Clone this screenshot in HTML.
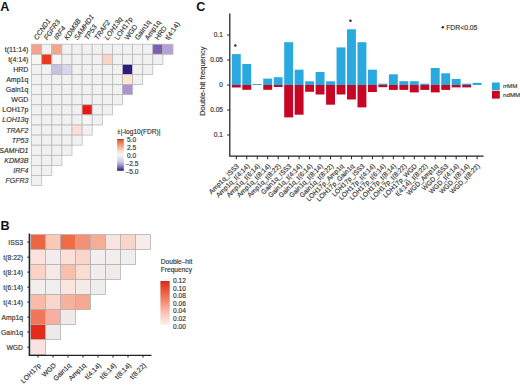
<!DOCTYPE html><html><head><meta charset="utf-8"><style>html,body{margin:0;padding:0;background:#fff;}svg{display:block;} text{stroke:#3a3a3a;stroke-width:0.16px;} text.b{stroke:none;}</style></head><body>
<svg width="520" height="385" viewBox="0 0 520 385" font-family='"Liberation Sans", sans-serif'>
<rect width="520" height="385" fill="#fff"/>
<text x="0.3" y="10.6" class="b" font-size="12.6" font-weight="bold" fill="#111">A</text>
<text x="0.6" y="229.9" class="b" font-size="12.6" font-weight="bold" fill="#111">B</text>
<text x="196.2" y="10.6" class="b" font-size="12.6" font-weight="bold" fill="#111">C</text>
<rect x="31.60" y="44.20" width="10.10" height="10.10" fill="#f4a28f" stroke="#b8b8b8" stroke-width="0.75"/>
<rect x="41.70" y="44.20" width="10.10" height="10.10" fill="#f1f1f1" stroke="#b8b8b8" stroke-width="0.75"/>
<rect x="51.80" y="44.20" width="10.10" height="10.10" fill="#f5a690" stroke="#b8b8b8" stroke-width="0.75"/>
<rect x="61.90" y="44.20" width="10.10" height="10.10" fill="#f1f1f1" stroke="#b8b8b8" stroke-width="0.75"/>
<rect x="72.00" y="44.20" width="10.10" height="10.10" fill="#f1f1f1" stroke="#b8b8b8" stroke-width="0.75"/>
<rect x="82.10" y="44.20" width="10.10" height="10.10" fill="#f1f1f1" stroke="#b8b8b8" stroke-width="0.75"/>
<rect x="92.20" y="44.20" width="10.10" height="10.10" fill="#f1f1f1" stroke="#b8b8b8" stroke-width="0.75"/>
<rect x="102.30" y="44.20" width="10.10" height="10.10" fill="#f1f1f1" stroke="#b8b8b8" stroke-width="0.75"/>
<rect x="112.40" y="44.20" width="10.10" height="10.10" fill="#f1f1f1" stroke="#b8b8b8" stroke-width="0.75"/>
<rect x="122.50" y="44.20" width="10.10" height="10.10" fill="#f1f1f1" stroke="#b8b8b8" stroke-width="0.75"/>
<rect x="132.60" y="44.20" width="10.10" height="10.10" fill="#f1f1f1" stroke="#b8b8b8" stroke-width="0.75"/>
<rect x="142.70" y="44.20" width="10.10" height="10.10" fill="#f1f1f1" stroke="#b8b8b8" stroke-width="0.75"/>
<rect x="152.80" y="44.20" width="10.10" height="10.10" fill="#7a60b0" stroke="#b8b8b8" stroke-width="0.75"/>
<rect x="162.90" y="44.20" width="10.10" height="10.10" fill="#b3a1d8" stroke="#b8b8b8" stroke-width="0.75"/>
<rect x="31.60" y="54.30" width="10.10" height="10.10" fill="#f9f5f3" stroke="#b8b8b8" stroke-width="0.75"/>
<rect x="41.70" y="54.30" width="10.10" height="10.10" fill="#e63a1a" stroke="#b8b8b8" stroke-width="0.75"/>
<rect x="51.80" y="54.30" width="10.10" height="10.10" fill="#f8f5f4" stroke="#b8b8b8" stroke-width="0.75"/>
<rect x="61.90" y="54.30" width="10.10" height="10.10" fill="#f1f1f1" stroke="#b8b8b8" stroke-width="0.75"/>
<rect x="72.00" y="54.30" width="10.10" height="10.10" fill="#f1f1f1" stroke="#b8b8b8" stroke-width="0.75"/>
<rect x="82.10" y="54.30" width="10.10" height="10.10" fill="#f1f1f1" stroke="#b8b8b8" stroke-width="0.75"/>
<rect x="92.20" y="54.30" width="10.10" height="10.10" fill="#f1f1f1" stroke="#b8b8b8" stroke-width="0.75"/>
<rect x="102.30" y="54.30" width="10.10" height="10.10" fill="#fbd3c3" stroke="#b8b8b8" stroke-width="0.75"/>
<rect x="112.40" y="54.30" width="10.10" height="10.10" fill="#f1f1f1" stroke="#b8b8b8" stroke-width="0.75"/>
<rect x="122.50" y="54.30" width="10.10" height="10.10" fill="#f1f1f1" stroke="#b8b8b8" stroke-width="0.75"/>
<rect x="132.60" y="54.30" width="10.10" height="10.10" fill="#f1f1f1" stroke="#b8b8b8" stroke-width="0.75"/>
<rect x="142.70" y="54.30" width="10.10" height="10.10" fill="#f1f1f1" stroke="#b8b8b8" stroke-width="0.75"/>
<rect x="152.80" y="54.30" width="10.10" height="10.10" fill="#f1f1f1" stroke="#b8b8b8" stroke-width="0.75"/>
<rect x="31.60" y="64.40" width="10.10" height="10.10" fill="#f1f1f1" stroke="#b8b8b8" stroke-width="0.75"/>
<rect x="41.70" y="64.40" width="10.10" height="10.10" fill="#f1f1f1" stroke="#b8b8b8" stroke-width="0.75"/>
<rect x="51.80" y="64.40" width="10.10" height="10.10" fill="#c9c1e2" stroke="#b8b8b8" stroke-width="0.75"/>
<rect x="61.90" y="64.40" width="10.10" height="10.10" fill="#dbd6ec" stroke="#b8b8b8" stroke-width="0.75"/>
<rect x="72.00" y="64.40" width="10.10" height="10.10" fill="#f1f1f1" stroke="#b8b8b8" stroke-width="0.75"/>
<rect x="82.10" y="64.40" width="10.10" height="10.10" fill="#f1f1f1" stroke="#b8b8b8" stroke-width="0.75"/>
<rect x="92.20" y="64.40" width="10.10" height="10.10" fill="#f1f1f1" stroke="#b8b8b8" stroke-width="0.75"/>
<rect x="102.30" y="64.40" width="10.10" height="10.10" fill="#f1f1f1" stroke="#b8b8b8" stroke-width="0.75"/>
<rect x="112.40" y="64.40" width="10.10" height="10.10" fill="#f1f1f1" stroke="#b8b8b8" stroke-width="0.75"/>
<rect x="122.50" y="64.40" width="10.10" height="10.10" fill="#2e1c7f" stroke="#b8b8b8" stroke-width="0.75"/>
<rect x="132.60" y="64.40" width="10.10" height="10.10" fill="#f1f1f1" stroke="#b8b8b8" stroke-width="0.75"/>
<rect x="142.70" y="64.40" width="10.10" height="10.10" fill="#f1f1f1" stroke="#b8b8b8" stroke-width="0.75"/>
<rect x="31.60" y="74.50" width="10.10" height="10.10" fill="#f1f1f1" stroke="#b8b8b8" stroke-width="0.75"/>
<rect x="41.70" y="74.50" width="10.10" height="10.10" fill="#f1f1f1" stroke="#b8b8b8" stroke-width="0.75"/>
<rect x="51.80" y="74.50" width="10.10" height="10.10" fill="#f1f1f1" stroke="#b8b8b8" stroke-width="0.75"/>
<rect x="61.90" y="74.50" width="10.10" height="10.10" fill="#f1f1f1" stroke="#b8b8b8" stroke-width="0.75"/>
<rect x="72.00" y="74.50" width="10.10" height="10.10" fill="#f1f1f1" stroke="#b8b8b8" stroke-width="0.75"/>
<rect x="82.10" y="74.50" width="10.10" height="10.10" fill="#f1f1f1" stroke="#b8b8b8" stroke-width="0.75"/>
<rect x="92.20" y="74.50" width="10.10" height="10.10" fill="#f1f1f1" stroke="#b8b8b8" stroke-width="0.75"/>
<rect x="102.30" y="74.50" width="10.10" height="10.10" fill="#f1f1f1" stroke="#b8b8b8" stroke-width="0.75"/>
<rect x="112.40" y="74.50" width="10.10" height="10.10" fill="#f1f1f1" stroke="#b8b8b8" stroke-width="0.75"/>
<rect x="122.50" y="74.50" width="10.10" height="10.10" fill="#fde5d3" stroke="#b8b8b8" stroke-width="0.75"/>
<rect x="132.60" y="74.50" width="10.10" height="10.10" fill="#f1f1f1" stroke="#b8b8b8" stroke-width="0.75"/>
<rect x="31.60" y="84.60" width="10.10" height="10.10" fill="#f1f1f1" stroke="#b8b8b8" stroke-width="0.75"/>
<rect x="41.70" y="84.60" width="10.10" height="10.10" fill="#f1f1f1" stroke="#b8b8b8" stroke-width="0.75"/>
<rect x="51.80" y="84.60" width="10.10" height="10.10" fill="#f1f1f1" stroke="#b8b8b8" stroke-width="0.75"/>
<rect x="61.90" y="84.60" width="10.10" height="10.10" fill="#f1f1f1" stroke="#b8b8b8" stroke-width="0.75"/>
<rect x="72.00" y="84.60" width="10.10" height="10.10" fill="#f1f1f1" stroke="#b8b8b8" stroke-width="0.75"/>
<rect x="82.10" y="84.60" width="10.10" height="10.10" fill="#f1f1f1" stroke="#b8b8b8" stroke-width="0.75"/>
<rect x="92.20" y="84.60" width="10.10" height="10.10" fill="#f1f1f1" stroke="#b8b8b8" stroke-width="0.75"/>
<rect x="102.30" y="84.60" width="10.10" height="10.10" fill="#f1f1f1" stroke="#b8b8b8" stroke-width="0.75"/>
<rect x="112.40" y="84.60" width="10.10" height="10.10" fill="#f1f1f1" stroke="#b8b8b8" stroke-width="0.75"/>
<rect x="122.50" y="84.60" width="10.10" height="10.10" fill="#a994d0" stroke="#b8b8b8" stroke-width="0.75"/>
<rect x="31.60" y="94.70" width="10.10" height="10.10" fill="#f1f1f1" stroke="#b8b8b8" stroke-width="0.75"/>
<rect x="41.70" y="94.70" width="10.10" height="10.10" fill="#f1f1f1" stroke="#b8b8b8" stroke-width="0.75"/>
<rect x="51.80" y="94.70" width="10.10" height="10.10" fill="#f1f1f1" stroke="#b8b8b8" stroke-width="0.75"/>
<rect x="61.90" y="94.70" width="10.10" height="10.10" fill="#f1f1f1" stroke="#b8b8b8" stroke-width="0.75"/>
<rect x="72.00" y="94.70" width="10.10" height="10.10" fill="#f1f1f1" stroke="#b8b8b8" stroke-width="0.75"/>
<rect x="82.10" y="94.70" width="10.10" height="10.10" fill="#f1f1f1" stroke="#b8b8b8" stroke-width="0.75"/>
<rect x="92.20" y="94.70" width="10.10" height="10.10" fill="#f1f1f1" stroke="#b8b8b8" stroke-width="0.75"/>
<rect x="102.30" y="94.70" width="10.10" height="10.10" fill="#f1f1f1" stroke="#b8b8b8" stroke-width="0.75"/>
<rect x="112.40" y="94.70" width="10.10" height="10.10" fill="#f1f1f1" stroke="#b8b8b8" stroke-width="0.75"/>
<rect x="31.60" y="104.80" width="10.10" height="10.10" fill="#f1f1f1" stroke="#b8b8b8" stroke-width="0.75"/>
<rect x="41.70" y="104.80" width="10.10" height="10.10" fill="#f1f1f1" stroke="#b8b8b8" stroke-width="0.75"/>
<rect x="51.80" y="104.80" width="10.10" height="10.10" fill="#f1f1f1" stroke="#b8b8b8" stroke-width="0.75"/>
<rect x="61.90" y="104.80" width="10.10" height="10.10" fill="#f1f1f1" stroke="#b8b8b8" stroke-width="0.75"/>
<rect x="72.00" y="104.80" width="10.10" height="10.10" fill="#f1f1f1" stroke="#b8b8b8" stroke-width="0.75"/>
<rect x="82.10" y="104.80" width="10.10" height="10.10" fill="#e81a16" stroke="#b8b8b8" stroke-width="0.75"/>
<rect x="92.20" y="104.80" width="10.10" height="10.10" fill="#f1f1f1" stroke="#b8b8b8" stroke-width="0.75"/>
<rect x="102.30" y="104.80" width="10.10" height="10.10" fill="#f1f1f1" stroke="#b8b8b8" stroke-width="0.75"/>
<rect x="31.60" y="114.90" width="10.10" height="10.10" fill="#f1f1f1" stroke="#b8b8b8" stroke-width="0.75"/>
<rect x="41.70" y="114.90" width="10.10" height="10.10" fill="#f1f1f1" stroke="#b8b8b8" stroke-width="0.75"/>
<rect x="51.80" y="114.90" width="10.10" height="10.10" fill="#f1f1f1" stroke="#b8b8b8" stroke-width="0.75"/>
<rect x="61.90" y="114.90" width="10.10" height="10.10" fill="#f1f1f1" stroke="#b8b8b8" stroke-width="0.75"/>
<rect x="72.00" y="114.90" width="10.10" height="10.10" fill="#f1f1f1" stroke="#b8b8b8" stroke-width="0.75"/>
<rect x="82.10" y="114.90" width="10.10" height="10.10" fill="#f7f5f5" stroke="#b8b8b8" stroke-width="0.75"/>
<rect x="92.20" y="114.90" width="10.10" height="10.10" fill="#f1f1f1" stroke="#b8b8b8" stroke-width="0.75"/>
<rect x="31.60" y="125.00" width="10.10" height="10.10" fill="#f1f1f1" stroke="#b8b8b8" stroke-width="0.75"/>
<rect x="41.70" y="125.00" width="10.10" height="10.10" fill="#f1f1f1" stroke="#b8b8b8" stroke-width="0.75"/>
<rect x="51.80" y="125.00" width="10.10" height="10.10" fill="#f1f1f1" stroke="#b8b8b8" stroke-width="0.75"/>
<rect x="61.90" y="125.00" width="10.10" height="10.10" fill="#f1f1f1" stroke="#b8b8b8" stroke-width="0.75"/>
<rect x="72.00" y="125.00" width="10.10" height="10.10" fill="#fbe0d6" stroke="#b8b8b8" stroke-width="0.75"/>
<rect x="82.10" y="125.00" width="10.10" height="10.10" fill="#f1f1f1" stroke="#b8b8b8" stroke-width="0.75"/>
<rect x="31.60" y="135.10" width="10.10" height="10.10" fill="#f1f1f1" stroke="#b8b8b8" stroke-width="0.75"/>
<rect x="41.70" y="135.10" width="10.10" height="10.10" fill="#f1f1f1" stroke="#b8b8b8" stroke-width="0.75"/>
<rect x="51.80" y="135.10" width="10.10" height="10.10" fill="#f1f1f1" stroke="#b8b8b8" stroke-width="0.75"/>
<rect x="61.90" y="135.10" width="10.10" height="10.10" fill="#f1f1f1" stroke="#b8b8b8" stroke-width="0.75"/>
<rect x="72.00" y="135.10" width="10.10" height="10.10" fill="#f1f1f1" stroke="#b8b8b8" stroke-width="0.75"/>
<rect x="31.60" y="145.20" width="10.10" height="10.10" fill="#f1f1f1" stroke="#b8b8b8" stroke-width="0.75"/>
<rect x="41.70" y="145.20" width="10.10" height="10.10" fill="#f1f1f1" stroke="#b8b8b8" stroke-width="0.75"/>
<rect x="51.80" y="145.20" width="10.10" height="10.10" fill="#f1f1f1" stroke="#b8b8b8" stroke-width="0.75"/>
<rect x="61.90" y="145.20" width="10.10" height="10.10" fill="#f1f1f1" stroke="#b8b8b8" stroke-width="0.75"/>
<rect x="31.60" y="155.30" width="10.10" height="10.10" fill="#f1f1f1" stroke="#b8b8b8" stroke-width="0.75"/>
<rect x="41.70" y="155.30" width="10.10" height="10.10" fill="#f1f1f1" stroke="#b8b8b8" stroke-width="0.75"/>
<rect x="51.80" y="155.30" width="10.10" height="10.10" fill="#f1f1f1" stroke="#b8b8b8" stroke-width="0.75"/>
<rect x="31.60" y="165.40" width="10.10" height="10.10" fill="#f1f1f1" stroke="#b8b8b8" stroke-width="0.75"/>
<rect x="41.70" y="165.40" width="10.10" height="10.10" fill="#f1f1f1" stroke="#b8b8b8" stroke-width="0.75"/>
<rect x="31.60" y="175.50" width="10.10" height="10.10" fill="#f1f1f1" stroke="#b8b8b8" stroke-width="0.75"/>
<text x="28.4" y="51.75" text-anchor="end" font-size="7.0" fill="#333">t(11:14)</text>
<text x="28.4" y="61.85" text-anchor="end" font-size="7.0" fill="#333">t(4:14)</text>
<text x="28.4" y="71.95" text-anchor="end" font-size="7.0" fill="#333">HRD</text>
<text x="28.4" y="82.05" text-anchor="end" font-size="7.0" fill="#333">Amp1q</text>
<text x="28.4" y="92.15" text-anchor="end" font-size="7.0" fill="#333">Gain1q</text>
<text x="28.4" y="102.25" text-anchor="end" font-size="7.0" fill="#333">WGD</text>
<text x="28.4" y="112.35" text-anchor="end" font-size="7.0" fill="#333">LOH17p</text>
<text x="28.4" y="122.45" text-anchor="end" font-size="7.0" font-style="italic" fill="#333">LOH13q</text>
<text x="28.4" y="132.55" text-anchor="end" font-size="7.0" font-style="italic" fill="#333">TRAF2</text>
<text x="28.4" y="142.65" text-anchor="end" font-size="7.0" font-style="italic" fill="#333">TP53</text>
<text x="28.4" y="152.75" text-anchor="end" font-size="7.0" font-style="italic" fill="#333">SAMHD1</text>
<text x="28.4" y="162.85" text-anchor="end" font-size="7.0" font-style="italic" fill="#333">KDM3B</text>
<text x="28.4" y="172.95" text-anchor="end" font-size="7.0" font-style="italic" fill="#333">IRF4</text>
<text x="28.4" y="183.05" text-anchor="end" font-size="7.0" font-style="italic" fill="#333">FGFR3</text>
<text transform="translate(37.15,40.50) rotate(-55)" font-size="7.0" font-style="italic" fill="#333">CCND1</text>
<text transform="translate(47.25,40.50) rotate(-55)" font-size="7.0" font-style="italic" fill="#333">FGFR3</text>
<text transform="translate(57.35,40.50) rotate(-55)" font-size="7.0" font-style="italic" fill="#333">IRF4</text>
<text transform="translate(67.45,40.50) rotate(-55)" font-size="7.0" font-style="italic" fill="#333">KDM3B</text>
<text transform="translate(77.55,40.50) rotate(-55)" font-size="7.0" font-style="italic" fill="#333">SAMHD1</text>
<text transform="translate(87.65,40.50) rotate(-55)" font-size="7.0" font-style="italic" fill="#333">TP53</text>
<text transform="translate(97.75,40.50) rotate(-55)" font-size="7.0" font-style="italic" fill="#333">TRAF2</text>
<text transform="translate(107.85,40.50) rotate(-55)" font-size="7.0" font-style="italic" fill="#333">LOH13q</text>
<text transform="translate(117.95,40.50) rotate(-55)" font-size="7.0" fill="#333">LOH17p</text>
<text transform="translate(128.05,40.50) rotate(-55)" font-size="7.0" fill="#333">WGD</text>
<text transform="translate(138.15,40.50) rotate(-55)" font-size="7.0" fill="#333">Gain1q</text>
<text transform="translate(148.25,40.50) rotate(-55)" font-size="7.0" fill="#333">Amp1q</text>
<text transform="translate(158.35,40.50) rotate(-55)" font-size="7.0" fill="#333">HRD</text>
<text transform="translate(168.45,40.50) rotate(-55)" font-size="7.0" fill="#333">t(4:14)</text>
<defs><linearGradient id="gA" x1="0" y1="0" x2="0" y2="1"><stop offset="0" stop-color="#c0222a"/><stop offset="0.05" stop-color="#e6643a"/><stop offset="0.22" stop-color="#f4a582"/><stop offset="0.36" stop-color="#f9d6c6"/><stop offset="0.5" stop-color="#f7f7f7"/><stop offset="0.72" stop-color="#cdc7e4"/><stop offset="0.86" stop-color="#8a7cc0"/><stop offset="1" stop-color="#2d1a78"/></linearGradient></defs>
<rect x="117.1" y="139" width="6.7" height="31.8" fill="url(#gA)"/>
<text x="117.1" y="134.4" font-size="6.6" fill="#333">±|-log10(FDR)|</text>
<text x="126.9" y="142.00" font-size="6.6" fill="#333">5.0</text>
<text x="126.9" y="149.93" font-size="6.6" fill="#333">2.5</text>
<text x="126.9" y="157.86" font-size="6.6" fill="#333">0.0</text>
<text x="125.6" y="165.79" font-size="6.6" fill="#333">–2.5</text>
<text x="125.6" y="173.72" font-size="6.6" fill="#333">–5.0</text>
<rect x="30.50" y="234.60" width="15.0" height="15.0" fill="#ec6644" stroke="#b0b0b0" stroke-width="0.75"/>
<rect x="45.50" y="234.60" width="15.0" height="15.0" fill="#fac9b8" stroke="#b0b0b0" stroke-width="0.75"/>
<rect x="60.50" y="234.60" width="15.0" height="15.0" fill="#ef6c46" stroke="#b0b0b0" stroke-width="0.75"/>
<rect x="75.50" y="234.60" width="15.0" height="15.0" fill="#f29173" stroke="#b0b0b0" stroke-width="0.75"/>
<rect x="90.50" y="234.60" width="15.0" height="15.0" fill="#f5ad95" stroke="#b0b0b0" stroke-width="0.75"/>
<rect x="105.50" y="234.60" width="15.0" height="15.0" fill="#f9e4df" stroke="#b0b0b0" stroke-width="0.75"/>
<rect x="120.50" y="234.60" width="15.0" height="15.0" fill="#f9d5cc" stroke="#b0b0b0" stroke-width="0.75"/>
<rect x="135.50" y="234.60" width="15.0" height="15.0" fill="#f6ecea" stroke="#b0b0b0" stroke-width="0.75"/>
<rect x="30.50" y="249.60" width="15.0" height="15.0" fill="#fbe2dd" stroke="#b0b0b0" stroke-width="0.75"/>
<rect x="45.50" y="249.60" width="15.0" height="15.0" fill="#f4ecec" stroke="#b0b0b0" stroke-width="0.75"/>
<rect x="60.50" y="249.60" width="15.0" height="15.0" fill="#fbe0da" stroke="#b0b0b0" stroke-width="0.75"/>
<rect x="75.50" y="249.60" width="15.0" height="15.0" fill="#fad5cc" stroke="#b0b0b0" stroke-width="0.75"/>
<rect x="90.50" y="249.60" width="15.0" height="15.0" fill="#f4eeee" stroke="#b0b0b0" stroke-width="0.75"/>
<rect x="105.50" y="249.60" width="15.0" height="15.0" fill="#f1eeee" stroke="#b0b0b0" stroke-width="0.75"/>
<rect x="120.50" y="249.60" width="15.0" height="15.0" fill="#f0eeee" stroke="#b0b0b0" stroke-width="0.75"/>
<rect x="30.50" y="264.60" width="15.0" height="15.0" fill="#fbd2c6" stroke="#b0b0b0" stroke-width="0.75"/>
<rect x="45.50" y="264.60" width="15.0" height="15.0" fill="#f5e8e6" stroke="#b0b0b0" stroke-width="0.75"/>
<rect x="60.50" y="264.60" width="15.0" height="15.0" fill="#f7bfac" stroke="#b0b0b0" stroke-width="0.75"/>
<rect x="75.50" y="264.60" width="15.0" height="15.0" fill="#fadcd2" stroke="#b0b0b0" stroke-width="0.75"/>
<rect x="90.50" y="264.60" width="15.0" height="15.0" fill="#f1eded" stroke="#b0b0b0" stroke-width="0.75"/>
<rect x="105.50" y="264.60" width="15.0" height="15.0" fill="#f2e9e9" stroke="#b0b0b0" stroke-width="0.75"/>
<rect x="30.50" y="279.60" width="15.0" height="15.0" fill="#f2eeee" stroke="#b0b0b0" stroke-width="0.75"/>
<rect x="45.50" y="279.60" width="15.0" height="15.0" fill="#f0eeee" stroke="#b0b0b0" stroke-width="0.75"/>
<rect x="60.50" y="279.60" width="15.0" height="15.0" fill="#fae6de" stroke="#b0b0b0" stroke-width="0.75"/>
<rect x="75.50" y="279.60" width="15.0" height="15.0" fill="#f4eaea" stroke="#b0b0b0" stroke-width="0.75"/>
<rect x="90.50" y="279.60" width="15.0" height="15.0" fill="#f0eded" stroke="#b0b0b0" stroke-width="0.75"/>
<rect x="30.50" y="294.60" width="15.0" height="15.0" fill="#f8bba8" stroke="#b0b0b0" stroke-width="0.75"/>
<rect x="45.50" y="294.60" width="15.0" height="15.0" fill="#fbd6ca" stroke="#b0b0b0" stroke-width="0.75"/>
<rect x="60.50" y="294.60" width="15.0" height="15.0" fill="#f7b29e" stroke="#b0b0b0" stroke-width="0.75"/>
<rect x="75.50" y="294.60" width="15.0" height="15.0" fill="#f6a992" stroke="#b0b0b0" stroke-width="0.75"/>
<rect x="30.50" y="309.60" width="15.0" height="15.0" fill="#f07858" stroke="#b0b0b0" stroke-width="0.75"/>
<rect x="45.50" y="309.60" width="15.0" height="15.0" fill="#f7afa0" stroke="#b0b0b0" stroke-width="0.75"/>
<rect x="60.50" y="309.60" width="15.0" height="15.0" fill="#f0eaea" stroke="#b0b0b0" stroke-width="0.75"/>
<rect x="30.50" y="324.60" width="15.0" height="15.0" fill="#e62a1a" stroke="#b0b0b0" stroke-width="0.75"/>
<rect x="45.50" y="324.60" width="15.0" height="15.0" fill="#eeeaea" stroke="#b0b0b0" stroke-width="0.75"/>
<rect x="30.50" y="339.60" width="15.0" height="15.0" fill="#fae3de" stroke="#b0b0b0" stroke-width="0.75"/>
<path d="M29.3,233.4 V355.4 H151.5" fill="none" stroke="#222" stroke-width="1.35"/>
<path d="M27.3,242.10 H29.3" stroke="#222" stroke-width="1"/>
<text x="23" y="244.50" text-anchor="end" font-size="6.8" fill="#333">ISS3</text>
<path d="M27.3,257.10 H29.3" stroke="#222" stroke-width="1"/>
<text x="23" y="259.50" text-anchor="end" font-size="6.8" fill="#333">t(8:22)</text>
<path d="M27.3,272.10 H29.3" stroke="#222" stroke-width="1"/>
<text x="23" y="274.50" text-anchor="end" font-size="6.8" fill="#333">t(8:14)</text>
<path d="M27.3,287.10 H29.3" stroke="#222" stroke-width="1"/>
<text x="23" y="289.50" text-anchor="end" font-size="6.8" fill="#333">t(6:14)</text>
<path d="M27.3,302.10 H29.3" stroke="#222" stroke-width="1"/>
<text x="23" y="304.50" text-anchor="end" font-size="6.8" fill="#333">t(4:14)</text>
<path d="M27.3,317.10 H29.3" stroke="#222" stroke-width="1"/>
<text x="23" y="319.50" text-anchor="end" font-size="6.8" fill="#333">Amp1q</text>
<path d="M27.3,332.10 H29.3" stroke="#222" stroke-width="1"/>
<text x="23" y="334.50" text-anchor="end" font-size="6.8" fill="#333">Gain1q</text>
<path d="M27.3,347.10 H29.3" stroke="#222" stroke-width="1"/>
<text x="23" y="349.50" text-anchor="end" font-size="6.8" fill="#333">WGD</text>
<path d="M38.00,355.3 V357.6" stroke="#222" stroke-width="1"/>
<text transform="translate(41.50,365.80) rotate(-45)" text-anchor="end" font-size="6.8" fill="#333">LOH17p</text>
<path d="M53.00,355.3 V357.6" stroke="#222" stroke-width="1"/>
<text transform="translate(56.50,365.80) rotate(-45)" text-anchor="end" font-size="6.8" fill="#333">WGD</text>
<path d="M68.00,355.3 V357.6" stroke="#222" stroke-width="1"/>
<text transform="translate(71.50,365.80) rotate(-45)" text-anchor="end" font-size="6.8" fill="#333">Gain1q</text>
<path d="M83.00,355.3 V357.6" stroke="#222" stroke-width="1"/>
<text transform="translate(86.50,365.80) rotate(-45)" text-anchor="end" font-size="6.8" fill="#333">Amp1q</text>
<path d="M98.00,355.3 V357.6" stroke="#222" stroke-width="1"/>
<text transform="translate(101.50,365.80) rotate(-45)" text-anchor="end" font-size="6.8" fill="#333">t(4:14)</text>
<path d="M113.00,355.3 V357.6" stroke="#222" stroke-width="1"/>
<text transform="translate(116.50,365.80) rotate(-45)" text-anchor="end" font-size="6.8" fill="#333">t(6:14)</text>
<path d="M128.00,355.3 V357.6" stroke="#222" stroke-width="1"/>
<text transform="translate(131.50,365.80) rotate(-45)" text-anchor="end" font-size="6.8" fill="#333">t(8:14)</text>
<path d="M143.00,355.3 V357.6" stroke="#222" stroke-width="1"/>
<text transform="translate(146.50,365.80) rotate(-45)" text-anchor="end" font-size="6.8" fill="#333">t(8:22)</text>
<text x="160.8" y="264.3" font-size="6.6" fill="#333">Double–hit</text>
<text x="160.8" y="272.4" font-size="6.6" fill="#333">Frequency</text>
<defs><linearGradient id="gB" x1="0" y1="0" x2="0" y2="1"><stop offset="0" stop-color="#d42a1e"/><stop offset="0.15" stop-color="#e34a32"/><stop offset="0.4" stop-color="#f07e60"/><stop offset="0.7" stop-color="#f8bfae"/><stop offset="1" stop-color="#fdf0ec"/></linearGradient></defs>
<rect x="160.4" y="281" width="9.3" height="44" fill="url(#gB)"/>
<text x="173" y="282.90" font-size="6.6" fill="#333">0.12</text>
<text x="173" y="290.50" font-size="6.6" fill="#333">0.10</text>
<text x="173" y="298.10" font-size="6.6" fill="#333">0.08</text>
<text x="173" y="305.70" font-size="6.6" fill="#333">0.06</text>
<text x="173" y="313.30" font-size="6.6" fill="#333">0.04</text>
<text x="173" y="320.90" font-size="6.6" fill="#333">0.02</text>
<text x="173" y="328.50" font-size="6.6" fill="#333">0.00</text>
<rect x="231.85" y="54.10" width="8.9" height="30.90" fill="#2aa9e0"/>
<rect x="231.85" y="85.00" width="8.9" height="2.50" fill="#c70626"/>
<rect x="242.32" y="64.00" width="8.9" height="21.00" fill="#2aa9e0"/>
<rect x="242.32" y="85.00" width="8.9" height="4.80" fill="#c70626"/>
<rect x="252.79" y="84.00" width="8.9" height="1.00" fill="#2aa9e0"/>
<rect x="263.26" y="78.60" width="8.9" height="6.40" fill="#2aa9e0"/>
<rect x="263.26" y="85.00" width="8.9" height="4.80" fill="#c70626"/>
<rect x="273.73" y="77.20" width="8.9" height="7.80" fill="#2aa9e0"/>
<rect x="273.73" y="85.00" width="8.9" height="2.00" fill="#c70626"/>
<rect x="284.20" y="42.20" width="8.9" height="42.80" fill="#2aa9e0"/>
<rect x="284.20" y="85.00" width="8.9" height="32.40" fill="#c70626"/>
<rect x="294.67" y="69.70" width="8.9" height="15.30" fill="#2aa9e0"/>
<rect x="294.67" y="85.00" width="8.9" height="29.70" fill="#c70626"/>
<rect x="305.14" y="81.30" width="8.9" height="3.70" fill="#2aa9e0"/>
<rect x="305.14" y="85.00" width="8.9" height="6.80" fill="#c70626"/>
<rect x="315.61" y="72.00" width="8.9" height="13.00" fill="#2aa9e0"/>
<rect x="315.61" y="85.00" width="8.9" height="9.50" fill="#c70626"/>
<rect x="326.08" y="81.30" width="8.9" height="3.70" fill="#2aa9e0"/>
<rect x="326.08" y="85.00" width="8.9" height="19.70" fill="#c70626"/>
<rect x="336.55" y="47.40" width="8.9" height="37.60" fill="#2aa9e0"/>
<rect x="336.55" y="85.00" width="8.9" height="9.50" fill="#c70626"/>
<rect x="347.02" y="29.30" width="8.9" height="55.70" fill="#2aa9e0"/>
<rect x="347.02" y="85.00" width="8.9" height="14.50" fill="#c70626"/>
<rect x="357.49" y="42.20" width="8.9" height="42.80" fill="#2aa9e0"/>
<rect x="357.49" y="85.00" width="8.9" height="22.40" fill="#c70626"/>
<rect x="367.96" y="69.70" width="8.9" height="15.30" fill="#2aa9e0"/>
<rect x="367.96" y="85.00" width="8.9" height="7.00" fill="#c70626"/>
<rect x="378.43" y="83.70" width="8.9" height="1.30" fill="#2aa9e0"/>
<rect x="378.43" y="85.00" width="8.9" height="2.20" fill="#c70626"/>
<rect x="388.90" y="74.30" width="8.9" height="10.70" fill="#2aa9e0"/>
<rect x="388.90" y="85.00" width="8.9" height="4.90" fill="#c70626"/>
<rect x="399.37" y="81.20" width="8.9" height="3.80" fill="#2aa9e0"/>
<rect x="399.37" y="85.00" width="8.9" height="4.90" fill="#c70626"/>
<rect x="409.84" y="81.20" width="8.9" height="3.80" fill="#2aa9e0"/>
<rect x="409.84" y="85.00" width="8.9" height="7.40" fill="#c70626"/>
<rect x="420.31" y="83.70" width="8.9" height="1.30" fill="#2aa9e0"/>
<rect x="420.31" y="85.00" width="8.9" height="4.90" fill="#c70626"/>
<rect x="430.78" y="68.00" width="8.9" height="17.00" fill="#2aa9e0"/>
<rect x="430.78" y="85.00" width="8.9" height="7.40" fill="#c70626"/>
<rect x="441.25" y="73.30" width="8.9" height="11.70" fill="#2aa9e0"/>
<rect x="441.25" y="85.00" width="8.9" height="4.90" fill="#c70626"/>
<rect x="451.72" y="78.90" width="8.9" height="6.10" fill="#2aa9e0"/>
<rect x="451.72" y="85.00" width="8.9" height="2.40" fill="#c70626"/>
<rect x="462.19" y="83.70" width="8.9" height="1.30" fill="#2aa9e0"/>
<rect x="462.19" y="85.00" width="8.9" height="2.40" fill="#c70626"/>
<rect x="472.66" y="82.80" width="8.9" height="2.20" fill="#2aa9e0"/>
<circle cx="235.30" cy="45.50" r="1.3" fill="#333"/>
<circle cx="350.47" cy="20.70" r="1.3" fill="#333"/>
<path d="M229.8,13.5 V156.1 H483.6" fill="none" stroke="#222" stroke-width="1.25"/>
<path d="M227.2,35.00 H229.8" stroke="#222" stroke-width="1"/>
<text x="223" y="37.30" text-anchor="end" font-size="6.6" fill="#333">0.1</text>
<path d="M227.2,60.00 H229.8" stroke="#222" stroke-width="1"/>
<text x="223" y="62.30" text-anchor="end" font-size="6.6" fill="#333">0.05</text>
<path d="M227.2,85.00 H229.8" stroke="#222" stroke-width="1"/>
<text x="223" y="87.30" text-anchor="end" font-size="6.6" fill="#333">0</text>
<path d="M227.2,110.00 H229.8" stroke="#222" stroke-width="1"/>
<text x="223" y="112.30" text-anchor="end" font-size="6.6" fill="#333">0.05</text>
<path d="M227.2,135.00 H229.8" stroke="#222" stroke-width="1"/>
<text x="223" y="137.30" text-anchor="end" font-size="6.6" fill="#333">0.1</text>
<path d="M236.30,156.1 V159.3" stroke="#222" stroke-width="1"/>
<text transform="translate(239.50,166.50) rotate(-45)" text-anchor="end" font-size="6.7" fill="#333">Amp1q_ISS3</text>
<path d="M246.77,156.1 V159.3" stroke="#222" stroke-width="1"/>
<text transform="translate(249.97,166.50) rotate(-45)" text-anchor="end" font-size="6.7" fill="#333">Amp1q_t(4:14)</text>
<path d="M257.24,156.1 V159.3" stroke="#222" stroke-width="1"/>
<text transform="translate(260.44,166.50) rotate(-45)" text-anchor="end" font-size="6.7" fill="#333">Amp1q_t(6:14)</text>
<path d="M267.71,156.1 V159.3" stroke="#222" stroke-width="1"/>
<text transform="translate(270.91,166.50) rotate(-45)" text-anchor="end" font-size="6.7" fill="#333">Amp1q_t(8:14)</text>
<path d="M278.18,156.1 V159.3" stroke="#222" stroke-width="1"/>
<text transform="translate(281.38,166.50) rotate(-45)" text-anchor="end" font-size="6.7" fill="#333">Amp1q_t(8:22)</text>
<path d="M288.65,156.1 V159.3" stroke="#222" stroke-width="1"/>
<text transform="translate(291.85,166.50) rotate(-45)" text-anchor="end" font-size="6.7" fill="#333">Gain1q_ISS3</text>
<path d="M299.12,156.1 V159.3" stroke="#222" stroke-width="1"/>
<text transform="translate(302.32,166.50) rotate(-45)" text-anchor="end" font-size="6.7" fill="#333">Gain1q_t(4:14)</text>
<path d="M309.59,156.1 V159.3" stroke="#222" stroke-width="1"/>
<text transform="translate(312.79,166.50) rotate(-45)" text-anchor="end" font-size="6.7" fill="#333">Gain1q_t(6:14)</text>
<path d="M320.06,156.1 V159.3" stroke="#222" stroke-width="1"/>
<text transform="translate(323.26,166.50) rotate(-45)" text-anchor="end" font-size="6.7" fill="#333">Gain1q_t(8:14)</text>
<path d="M330.53,156.1 V159.3" stroke="#222" stroke-width="1"/>
<text transform="translate(333.73,166.50) rotate(-45)" text-anchor="end" font-size="6.7" fill="#333">Gain1q_t(8:22)</text>
<path d="M341.00,156.1 V159.3" stroke="#222" stroke-width="1"/>
<text transform="translate(344.20,166.50) rotate(-45)" text-anchor="end" font-size="6.7" fill="#333">LOH17p_Amp1q</text>
<path d="M351.47,156.1 V159.3" stroke="#222" stroke-width="1"/>
<text transform="translate(354.67,166.50) rotate(-45)" text-anchor="end" font-size="6.7" fill="#333">LOH17p_Gain1q</text>
<path d="M361.94,156.1 V159.3" stroke="#222" stroke-width="1"/>
<text transform="translate(365.14,166.50) rotate(-45)" text-anchor="end" font-size="6.7" fill="#333">LOH17p_ISS3</text>
<path d="M372.41,156.1 V159.3" stroke="#222" stroke-width="1"/>
<text transform="translate(375.61,166.50) rotate(-45)" text-anchor="end" font-size="6.7" fill="#333">LOH17p_t(4:14)</text>
<path d="M382.88,156.1 V159.3" stroke="#222" stroke-width="1"/>
<text transform="translate(386.08,166.50) rotate(-45)" text-anchor="end" font-size="6.7" fill="#333">LOH17p_t(6:14)</text>
<path d="M393.35,156.1 V159.3" stroke="#222" stroke-width="1"/>
<text transform="translate(396.55,166.50) rotate(-45)" text-anchor="end" font-size="6.7" fill="#333">LOH17p_t(8:14)</text>
<path d="M403.82,156.1 V159.3" stroke="#222" stroke-width="1"/>
<text transform="translate(407.02,166.50) rotate(-45)" text-anchor="end" font-size="6.7" fill="#333">LOH17p_t(8:22)</text>
<path d="M414.29,156.1 V159.3" stroke="#222" stroke-width="1"/>
<text transform="translate(417.49,166.50) rotate(-45)" text-anchor="end" font-size="6.7" fill="#333">LOH17p_WGD</text>
<path d="M424.76,156.1 V159.3" stroke="#222" stroke-width="1"/>
<text transform="translate(427.96,166.50) rotate(-45)" text-anchor="end" font-size="6.7" fill="#333">t(4:14)_t(8:22)</text>
<path d="M435.23,156.1 V159.3" stroke="#222" stroke-width="1"/>
<text transform="translate(438.43,166.50) rotate(-45)" text-anchor="end" font-size="6.7" fill="#333">WGD_Amp1q</text>
<path d="M445.70,156.1 V159.3" stroke="#222" stroke-width="1"/>
<text transform="translate(448.90,166.50) rotate(-45)" text-anchor="end" font-size="6.7" fill="#333">WGD_ISS3</text>
<path d="M456.17,156.1 V159.3" stroke="#222" stroke-width="1"/>
<text transform="translate(459.37,166.50) rotate(-45)" text-anchor="end" font-size="6.7" fill="#333">WGD_t(4:14)</text>
<path d="M466.64,156.1 V159.3" stroke="#222" stroke-width="1"/>
<text transform="translate(469.84,166.50) rotate(-45)" text-anchor="end" font-size="6.7" fill="#333">WGD_t(8:14)</text>
<path d="M477.11,156.1 V159.3" stroke="#222" stroke-width="1"/>
<text transform="translate(480.31,166.50) rotate(-45)" text-anchor="end" font-size="6.7" fill="#333">WGD_t(8:22)</text>
<text transform="translate(204.7,81.2) rotate(-90)" text-anchor="middle" font-size="7.5" fill="#333">Double-hit frequency</text>
<circle cx="442.8" cy="27.2" r="1.25" fill="#333"/>
<text x="446.2" y="29.6" font-size="6.8" fill="#333">FDR&lt;0.05</text>
<rect x="492" y="82.5" width="7.8" height="7.6" fill="#2aa9e0"/>
<rect x="492" y="90.8" width="7.8" height="7.8" fill="#c70626"/>
<text x="503" y="88.3" font-size="6.2" fill="#333">rrMM</text>
<text x="503" y="97.2" font-size="6.2" fill="#333">ndMM</text>
</svg></body></html>
